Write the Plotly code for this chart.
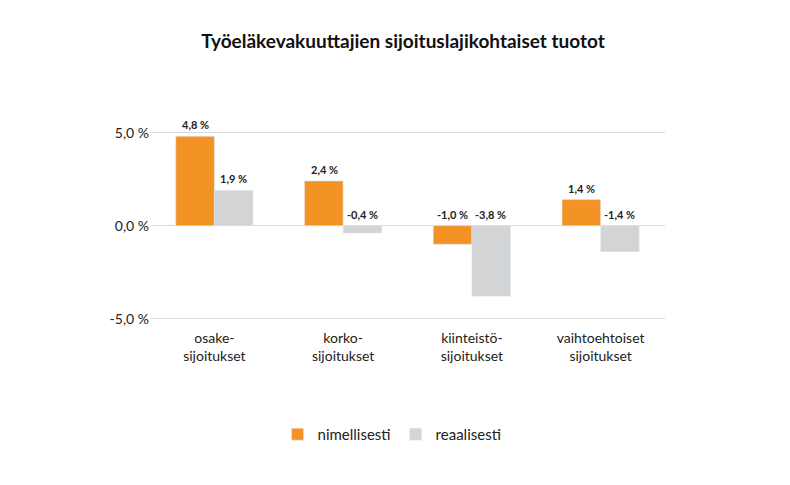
import plotly.graph_objects as go

categories = ["osake-<br>sijoitukset", "korko-<br>sijoitukset", "kiinteistö-<br>sijoitukset", "vaihtoehtoiset<br>sijoitukset"]
nominal = [4.8, 2.4, -1.0, 1.4]
real = [1.9, -0.4, -3.8, -1.4]
tick_vals = [-5, 0, 5]
tick_text = ["-5,0 %", "0,0 %", "5,0 %"]

def fmt(v):
    return f"{v:.1f} %".replace(".", ",")

fig = go.Figure()
fig.add_bar(x=categories, y=nominal, name="nimellisesti", marker_color="#F39325")
fig.add_bar(x=categories, y=real, name="reaalisesti", marker_color="#D3D4D6")

ann = []
for vals, shift in ((nominal, -19), (real, 19)):
    for c, v in zip(categories, vals):
        ann.append(dict(x=c, y=max(v, 0), xref="x", yref="y", text=f"<b>{fmt(v)}</b>",
                        showarrow=False, xshift=shift, yanchor="bottom", yshift=3,
                        font=dict(size=11, color="#222")))

fig.update_layout(
    width=790, height=485, plot_bgcolor="white", paper_bgcolor="white",
    font=dict(family="Lato, sans-serif", size=14, color="#222"),
    title=dict(text="<b>Työeläkevakuuttajien sijoituslajikohtaiset tuotot</b>", x=0.5, y=0.945,
               xanchor="center", font=dict(size=19, color="#111")),
    barmode="group", bargap=0.4, bargroupgap=0,
    margin=dict(l=142, r=133, t=106, b=165, autoexpand=False),
    xaxis=dict(showline=False, ticks="", tickfont=dict(size=14)),
    yaxis=dict(range=[-5.5, 6], tickvals=tick_vals, ticktext=tick_text, showgrid=True,
               gridcolor="#D9D9D9", zeroline=False, tickfont=dict(size=14), ticklen=12,
               tickcolor="white"),
    legend=dict(orientation="h", x=0.47, xanchor="center", y=-0.42, yanchor="top",
                font=dict(size=15)),
    annotations=ann,
)
fig.write_html("out.html")
